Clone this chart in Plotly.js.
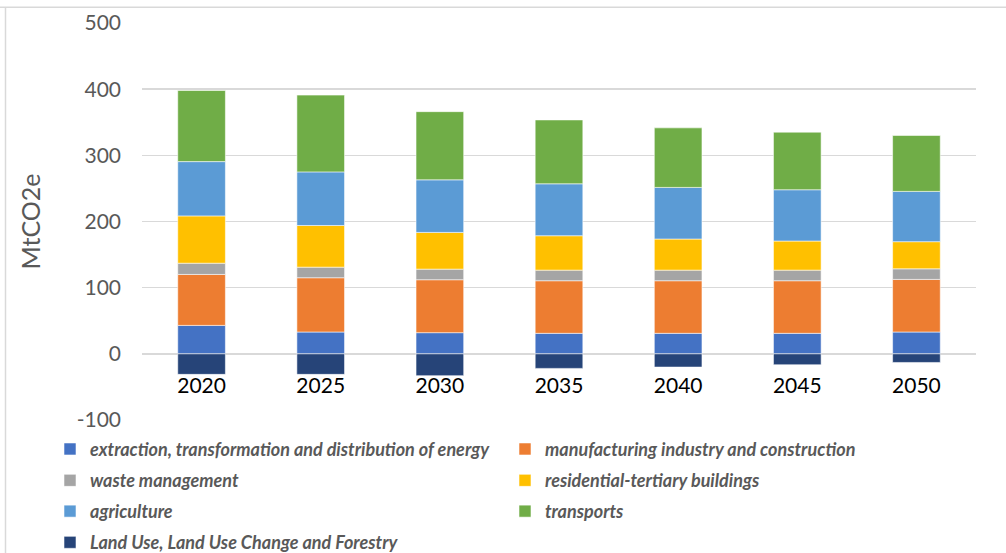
<!DOCTYPE html>
<html>
<head>
<meta charset="utf-8">
<script src="https://cdn.plot.ly/plotly-3.0.1.min.js"></script>
<style>html,body{margin:0;padding:0;background:#fff;}#chart{width:1006px;height:553px;}</style>
</head>
<body>
<div id="chart"></div>
<script>
var years = ["2020", "2025", "2030", "2035", "2040", "2045", "2050"];
var energy = [43, 33, 32, 31, 31, 31, 33];
var manufacturing = [77, 82, 80, 79.5, 79.5, 79.5, 79.5];
var waste = [17, 16, 16, 16, 16, 16, 16];
var residential = [71.5, 63, 55.5, 52, 47, 44, 41];
var agriculture = [82, 81, 79.5, 78.5, 78, 77.5, 76];
var transports = [107.5, 116, 103, 96.5, 90, 87, 84.5];
var lulucf = [-31, -31, -33, -22, -20, -16.5, -13];

var yTickValues = [-100, 0, 100, 200, 300, 400, 500];
var yTickLabels = ["-100", "0", "100", "200", "300", "400", "500"];

var seriesNames = [
  "extraction, transformation and distribution of energy",
  "manufacturing industry and construction",
  "waste management",
  "residential-tertiary buildings",
  "agriculture",
  "transports",
  "Land Use, Land Use Change and Forestry"
];
var seriesValues = [energy, manufacturing, waste, residential, agriculture, transports, lulucf];
var seriesColors = ["#4472C4", "#ED7D31", "#A5A5A5", "#FFC000", "#5B9BD5", "#70AD47", "#264478"];
var legendIds = ["legend", "legend2", "legend3", "legend4", "legend5", "legend6", "legend7"];

var traces = seriesNames.map(function (name, i) {
  return {
    type: "bar",
    name: name,
    x: years,
    y: seriesValues[i],
    showlegend: true,
    marker: { color: seriesColors[i], line: { color: "rgba(255,255,255,0.55)", width: 1 } },
    legend: legendIds[i],
    hoverinfo: "x+y+name"
  };
});

var L = 142, R = 976, T = 22.7, B = 420;
var W = R - L, H = B - T;
function px2x(p) { return (p - L) / W; }
function py2y(p) { return (B - p) / H; }

var legendFont = { family: "Lato, 'Open Sans', sans-serif", size: 18, color: "#595959", style: "italic", weight: "bold" };
var col = [px2x(50), px2x(505)];
var rows = [py2y(449.3), py2y(480.7), py2y(511.5), py2y(542.7)];
function mkLegend(c, r) {
  return { x: col[c], y: rows[r], xanchor: "left", yanchor: "middle", orientation: "h",
           font: legendFont, bgcolor: "rgba(0,0,0,0)", borderwidth: 0, itemclick: false, itemdoubleclick: false };
}

var layout = {
  width: 1006, height: 553,
  showlegend: true,
  margin: { l: L, r: 1006 - R, t: T, b: 553 - B, autoexpand: false },
  paper_bgcolor: "#ffffff", plot_bgcolor: "#ffffff",
  barmode: "relative",
  bargap: 0.6,
  font: { family: "Lato, 'Open Sans', sans-serif", color: "#595959" },
  xaxis: {
    type: "category",
    anchor: "free", position: 1 / 6,
    showgrid: false, showline: false, zeroline: false,
    ticks: "", ticklabelstandoff: 17,
    tickfont: { family: "Lato, 'Open Sans', sans-serif", size: 21, color: "#000000" }
  },
  yaxis: {
    range: [-100, 500],
    tickmode: "array", tickvals: yTickValues, ticktext: yTickLabels,
    showgrid: true, gridcolor: "#D9D9D9", gridwidth: 1.4,
    zeroline: false, showline: false, ticks: "",
    ticklabelstandoff: 20,
    tickfont: { family: "Lato, 'Open Sans', sans-serif", size: 21, color: "#595959" },
    title: { text: "MtCO2e", font: { family: "Lato, 'Open Sans', sans-serif", size: 25, color: "#595959" }, standoff: 28 }
  },
  legend: mkLegend(0, 0),
  legend2: mkLegend(1, 0),
  legend3: mkLegend(0, 1),
  legend4: mkLegend(1, 1),
  legend5: mkLegend(0, 2),
  legend6: mkLegend(1, 2),
  legend7: mkLegend(0, 3),
  shapes: [
    { type: "line", xref: "paper", yref: "paper", x0: px2x(0), x1: px2x(1006), y0: py2y(7), y1: py2y(7), line: { color: "#D9D9D9", width: 1.5 } },
    { type: "line", xref: "paper", yref: "paper", x0: px2x(5.5), x1: px2x(5.5), y0: py2y(7), y1: py2y(553), line: { color: "#D9D9D9", width: 1.5 } }
  ]
};

Plotly.newPlot("chart", traces, layout, { displayModeBar: false, staticPlot: true });
</script>
</body>
</html>
